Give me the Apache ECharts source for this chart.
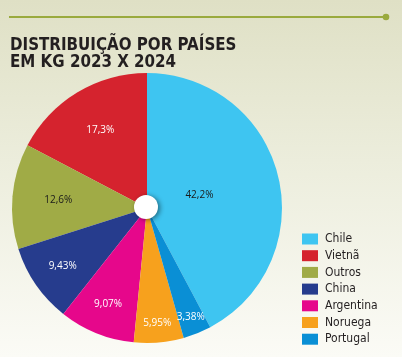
<!DOCTYPE html>
<html><head><meta charset="utf-8">
<script src="https://cdn.jsdelivr.net/npm/echarts@6/dist/echarts.min.js"></script>
<style>html,body{margin:0;padding:0;}#c{width:402px;height:357px;background:linear-gradient(to bottom,#dfe0c5 0%,#eceddc 45%,#fbfbf6 100%);}</style>
</head><body><div id="c"></div>
<script>
const categories = ['Chile','Vietnã','Outros','China','Argentina','Noruega','Portugal'];
const values = [42.2, 17.3, 12.6, 9.43, 9.07, 5.95, 3.38];
const valueLabels = ['42,2%','17,3%','12,6%','9,43%','9,07%','5,95%','3,38%'];
const colors = ['#3ec5f1','#d5232e','#a0ab46','#263c8d','#e6078b','#f7a11d','#0a8fd5'];
const labelColors = ['#1a1a1a','#ffffff','#1a1a1a','#ffffff','#ffffff','#ffffff','#ffffff'];
const labelRadius = [0.40, 0.67, 0.66, 0.76, 0.77, 0.86, 0.87];

const total = values.reduce((a,b)=>a+b,0);
const cx = 147, cy = 208, R = 135;
const startAngle = 90 - values[0]/total*360;
const mids = [];
let acc = startAngle;
values.forEach(v=>{ const span=v/total*360; mids.push(acc+span/2); acc+=span; });

const chart = echarts.init(document.getElementById('c'));
chart.setOption({
  animation:false,
  title:{text:'DISTRIBUIÇÃO POR PAÍSES\nEM KG 2023 X 2024', left:10, top:37, padding:0,
    textStyle:{fontFamily:'DejaVu Sans Condensed', fontWeight:'bold', fontSize:16.8, lineHeight:17, color:'#231f20'}},
  legend:{orient:'vertical', left:302, top:233, height:130, padding:0, itemWidth:16, itemHeight:11, itemGap:4.7,
    icon:'rect', data:categories,
    textStyle:{fontFamily:"'Liberation Sans Narrow','DejaVu Sans Condensed',sans-serif", fontSize:12, lineHeight:11, color:'#231f20', padding:[0,0,0,2]}},
  graphic:[
    {type:'line', shape:{x1:9,y1:17,x2:385,y2:17}, style:{stroke:'#9aaa3e', lineWidth:2}},
    {type:'circle', shape:{cx:386,cy:17,r:3.3}, style:{fill:'#9aaa3e'}}
  ],
  series:[{
    type:'pie', center:[cx,cy], radius:[0,R], clockwise:false, startAngle:startAngle,
    data: categories.map((n,i)=>({name:n, value:values[i], itemStyle:{color:colors[i]},
      label:{color:labelColors[i]}})),
    label:{show:true, position:'inside', formatter:p=>valueLabels[p.dataIndex],
      fontFamily:"'Open Sans','Noto Sans',sans-serif", fontSize:10},
    labelLine:{show:false},
    labelLayout:function(p){
      const i=p.dataIndex; const a=mids[i]*Math.PI/180; const r=R*labelRadius[i];
      return {x:cx+r*Math.cos(a), y:cy-r*Math.sin(a), align:'center', verticalAlign:'middle'};
    },
    emphasis:{disabled:true}, silent:true
  },{
    type:'pie', center:[cx-1,cy-1], radius:[0,12], silent:true,
    data:[{value:1, name:'_', itemStyle:{color:'#ffffff', shadowBlur:5, shadowOffsetX:2, shadowOffsetY:1, shadowColor:'rgba(0,0,0,0.45)'}}],
    label:{show:false}, labelLine:{show:false}, emphasis:{disabled:true}
  }]
});
</script></body></html>
